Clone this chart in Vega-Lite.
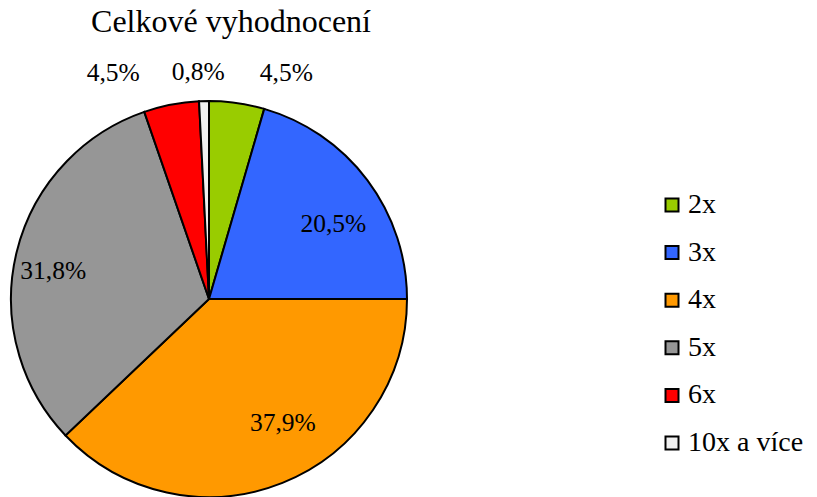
{
  "$schema": "https://vega.github.io/schema/vega-lite/v6.json",
  "width": 418,
  "height": 396,
  "autosize": {"type": "none"},
  "padding": {"top": 101, "left": 0, "right": 399, "bottom": 0},
  "background": "white",
  "title": {"text": "Celkové vyhodnocení", "font": "Liberation Serif, Times New Roman, serif", "fontSize": 32, "fontWeight": "normal", "color": "black", "anchor": "middle", "dx": 22, "offset": 18, "frame": "group"},
  "data": {"values": [
    {"kategorie": "2x", "podil": 4.5, "label": "4,5%", "poradi": 1},
    {"kategorie": "3x", "podil": 20.5, "label": "20,5%", "poradi": 2},
    {"kategorie": "4x", "podil": 37.9, "label": "37,9%", "poradi": 3},
    {"kategorie": "5x", "podil": 31.8, "label": "31,8%", "poradi": 4},
    {"kategorie": "6x", "podil": 4.5, "label": "4,5%", "poradi": 5},
    {"kategorie": "10x a více", "podil": 0.8, "label": "0,8%", "poradi": 6}
  ]},
  "encoding": {
    "theta": {"field": "podil", "type": "quantitative", "stack": true},
    "order": {"field": "poradi", "type": "quantitative"}
  },
  "layer": [
    {
      "mark": {"type": "arc", "outerRadius": 198, "stroke": "black", "strokeWidth": 2},
      "encoding": {
        "color": {"field": "kategorie", "type": "nominal",
          "scale": {"domain": ["2x", "3x", "4x", "5x", "6x", "10x a více"], "range": ["#99CC00", "#3366FF", "#FF9900", "#969696", "#FF0000", "#F0F0F0"]},
          "legend": {"title": null, "orient": "none", "legendX": 658, "legendY": 90, "symbolType": "square", "symbolSize": 169, "symbolStrokeColor": "black", "symbolStrokeWidth": 2, "labelFont": "Liberation Serif, Times New Roman, serif", "labelFontSize": 28, "labelColor": "black", "labelOffset": 2, "rowPadding": 19.6, "labelLimit": 300}
        }
      }
    },
    {
      "mark": {"type": "text", "radius": 148, "font": "Liberation Serif, Times New Roman, serif", "fontSize": 25.5, "color": "black", "dx": 6, "dy": 14},
      "encoding": {"text": {"condition": {"test": "datum.kategorie === '3x'", "field": "label"}, "value": ""}}
    },
    {
      "mark": {"type": "text", "radius": 148, "font": "Liberation Serif, Times New Roman, serif", "fontSize": 25.5, "color": "black", "dx": 19, "dy": -13},
      "encoding": {"text": {"condition": {"test": "datum.kategorie === '4x'", "field": "label"}, "value": ""}}
    },
    {
      "mark": {"type": "text", "radius": 148, "font": "Liberation Serif, Times New Roman, serif", "fontSize": 25.5, "color": "black", "dx": -12, "dy": 7},
      "encoding": {"text": {"condition": {"test": "datum.kategorie === '5x'", "field": "label"}, "value": ""}}
    },
    {
      "mark": {"type": "text", "radius": 230, "font": "Liberation Serif, Times New Roman, serif", "fontSize": 25.5, "color": "black", "dx": 45, "dy": 2},
      "encoding": {"text": {"condition": {"test": "datum.kategorie === '2x'", "field": "label"}, "value": ""}}
    },
    {
      "mark": {"type": "text", "radius": 230, "font": "Liberation Serif, Times New Roman, serif", "fontSize": 25.5, "color": "black", "dx": -52, "dy": 0},
      "encoding": {"text": {"condition": {"test": "datum.kategorie === '6x'", "field": "label"}, "value": ""}}
    },
    {
      "mark": {"type": "text", "radius": 230, "font": "Liberation Serif, Times New Roman, serif", "fontSize": 25.5, "color": "black", "dx": -5, "dy": 3},
      "encoding": {"text": {"condition": {"test": "datum.kategorie === '10x a více'", "field": "label"}, "value": ""}}
    }
  ],
  "config": {"view": {"stroke": null}}
}
